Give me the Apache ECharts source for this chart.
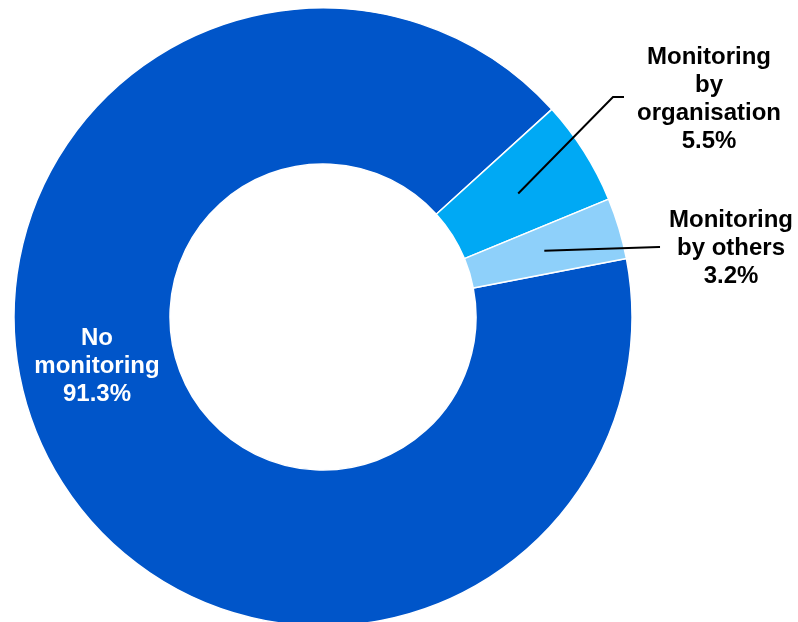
<!DOCTYPE html>
<html>
<head>
<meta charset="utf-8">
<script src="https://cdn.jsdelivr.net/npm/echarts@6/dist/echarts.min.js"></script>
<style>html,body{margin:0;padding:0;background:#fff}#c{width:798px;height:622px}</style>
</head>
<body>
<div id="c"></div>
<script>
const categories = ['No monitoring', 'Monitoring by organisation', 'Monitoring by others'];
const labelTexts = ['No\nmonitoring', 'Monitoring\nby\norganisation', 'Monitoring\nby others'];
const values = [91.3, 5.5, 3.2];
const colors = ['#0055C9', '#00A9F4', '#8ED0FA'];

const labelPos = [[97, 366], [709, 99], [731, 248]];

const chart = echarts.init(document.getElementById('c'), null, {renderer: 'canvas'});
const cx = 323, cy = 317, rIn = 153, rOut = 309, rMid = 231;
const startAngle = 10.9;

const baseData = categories.map((n, i) => ({
  name: n, value: values[i], itemStyle: {color: colors[i]},
  label: {show: i === 0}
}));
const overlayData = categories.map((n, i) => ({
  name: n, value: values[i],
  label: {show: i !== 0},
  labelLine: {show: i !== 0}
}));
const fmt = p => labelTexts[p.dataIndex] + '\n' + p.value.toFixed(1) + '%';
const labelFont = {fontFamily: 'Liberation Sans, Arial, sans-serif', fontWeight: 'bold', fontSize: 24, lineHeight: 28};

chart.setOption({
  animation: false,
  backgroundColor: '#fff',
  series: [
    {
      type: 'pie', center: [cx, cy], radius: [rIn, rOut], startAngle: startAngle,
      clockwise: true, silent: true,
      itemStyle: {borderColor: '#fff', borderWidth: 1.5},
      label: Object.assign({position: 'inside', color: '#fff', formatter: fmt, align: 'center'}, labelFont),
      labelLine: {show: false},
      labelLayout: p => ({x: labelPos[p.dataIndex][0], y: labelPos[p.dataIndex][1], align: 'center', verticalAlign: 'middle'}),
      data: baseData
    },
    {
      type: 'pie', center: [cx, cy], radius: [0, rMid], startAngle: startAngle,
      clockwise: true, silent: true, z: 5,
      itemStyle: {color: 'rgba(0,0,0,0)', borderWidth: 0},
      label: Object.assign({position: 'outside', color: '#000', formatter: fmt, align: 'center'}, labelFont),
      labelLine: {show: true, length: 20, length2: 10, lineStyle: {color: '#000', width: 2}},
      labelLayout: function (p) {
        const pos = labelPos[p.dataIndex];
        const out = {x: pos[0], y: pos[1], align: 'center', verticalAlign: 'middle'};
        if (p.labelLinePoints && p.labelLinePoints.length) {
          const start = p.labelLinePoints[0];
          const w = p.labelRect.width;
          const left = pos[0] - w / 2;
          if (p.dataIndex === 1) {
            out.labelLinePoints = [start, [left - 24, pos[1] - 2], [left - 13, pos[1] - 2]];
          } else {
            out.labelLinePoints = [start, [left - 10, pos[1] - 1], [left - 9, pos[1] - 1]];
          }
        }
        return out;
      },
      data: overlayData
    }
  ]
});
</script>
</body>
</html>
